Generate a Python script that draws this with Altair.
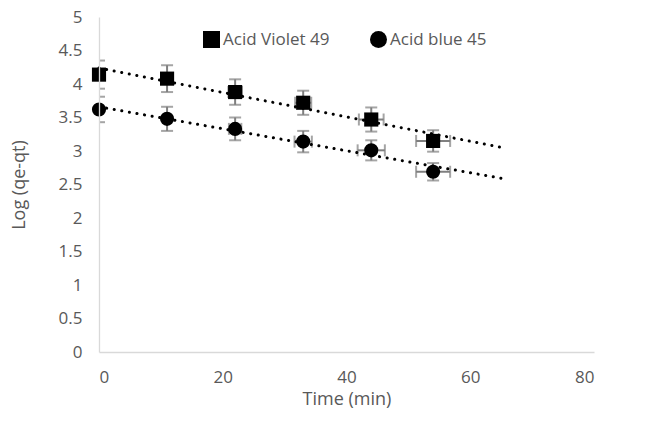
import altair as alt
import pandas as pd

series_names = ["Acid Violet 49", "Acid blue 45"]
times = [0, 11, 22, 33, 44, 54]
violet = [4.14, 4.08, 3.88, 3.72, 3.47, 3.15]
blue = [3.62, 3.48, 3.33, 3.14, 3.01, 2.69]
violet_yerr = [0.21, 0.20, 0.19, 0.18, 0.18, 0.16]
blue_yerr = [0.19, 0.18, 0.17, 0.16, 0.15, 0.13]
violet_xerr = [0, 0, 1.1, 1.3, 2.0, 2.75]
blue_xerr = [0, 0, 1.0, 1.4, 2.2, 2.75]
x_ticks = [0, 20, 40, 60, 80]
y_ticks = [0, 0.5, 1, 1.5, 2, 2.5, 3, 3.5, 4, 4.5, 5]

rows = []
for name, vals, ye, xe in [(series_names[0], violet, violet_yerr, violet_xerr),
                           (series_names[1], blue, blue_yerr, blue_xerr)]:
    for t, v, e, xe_ in zip(times, vals, ye, xe):
        rows.append({"series": name, "time": t, "value": v,
                     "ylo": v - e, "yhi": v + e,
                     "xlo": t - xe_, "xhi": t + xe_, "xerr": xe_})
df = pd.DataFrame(rows)

FONT = "Open Sans"
GRAY = "#595959"
ERR = "#7f7f7f"

xs = alt.Scale(domain=[0, 80], nice=False)
ys = alt.Scale(domain=[0, 5], nice=False)

x_axis = alt.Axis(values=x_ticks, title="Time (min)", labelPadding=17, titlePadding=5,
                  labelOverlap=False, format="d")
y_axis = alt.Axis(values=y_ticks, title="Log (qe-qt)", labelPadding=17, titlePadding=30,
                  zindex=1, labelOverlap=False, format="~g")


def X(field):
    return alt.X(field, scale=xs, axis=x_axis)


def Y(field):
    return alt.Y(field, scale=ys, axis=y_axis)


base = alt.Chart(df)

yerr_rule = base.mark_rule(color=ERR, strokeWidth=2, clip=True).encode(
    x=X("time:Q"), y=Y("ylo:Q"), y2="yhi:Q")
ycap_lo = base.mark_tick(color=ERR, thickness=2, size=12, orient="horizontal", clip=True).encode(
    x=X("time:Q"), y=Y("ylo:Q"))
ycap_hi = base.mark_tick(color=ERR, thickness=2, size=12, orient="horizontal", clip=True).encode(
    x=X("time:Q"), y=Y("yhi:Q"))

xb = base.transform_filter("datum.xerr > 0")
xerr_rule = xb.mark_rule(color=ERR, strokeWidth=2, clip=True).encode(
    x=X("xlo:Q"), x2="xhi:Q", y=Y("value:Q"))
xcap_lo = xb.mark_tick(color=ERR, thickness=2, size=12, orient="vertical", clip=True).encode(
    x=X("xlo:Q"), y=Y("value:Q"))
xcap_hi = xb.mark_tick(color=ERR, thickness=2, size=12, orient="vertical", clip=True).encode(
    x=X("xhi:Q"), y=Y("value:Q"))

points = base.mark_point(filled=True, opacity=1, color="black", size=200).encode(
    x=X("time:Q"),
    y=Y("value:Q"),
    shape=alt.Shape("series:N",
                    scale=alt.Scale(domain=series_names, range=["square", "circle"]),
                    legend=alt.Legend(title=None, orient="none", legendX=104, legendY=14,
                                      direction="horizontal", columnPadding=40,
                                      labelFontSize=17, labelColor=GRAY, labelFont=FONT,
                                      labelOffset=3, symbolSize=289, symbolFillColor="black",
                                      symbolStrokeWidth=0)),
)

trend = base.transform_regression("time", "value", groupby=["series"], extent=[0, 65]).mark_line(
    color="black", strokeWidth=3, strokeDash=[0.1, 7.6], strokeCap="round"
).encode(
    x=X("time:Q"),
    y=Y("value:Q"),
    detail="series:N",
)

chart = alt.layer(yerr_rule, ycap_lo, ycap_hi, xerr_rule, xcap_lo, xcap_hi, points, trend).properties(
    width=495, height=335,
    padding={"left": 99, "top": 17, "right": 51, "bottom": 75},
    autosize=alt.AutoSizeParams(type="none"),
    background="white",
).configure_view(stroke=None).configure_axis(
    grid=False, ticks=False, domainColor="#d9d9d9", domainWidth=1.3,
    labelFont=FONT, labelFontSize=17, labelColor=GRAY,
    titleFont=FONT, titleFontSize=18, titleColor=GRAY, titleFontWeight="normal",
)

chart.save("out.html", embed_options={"renderer": "svg", "actions": False})
